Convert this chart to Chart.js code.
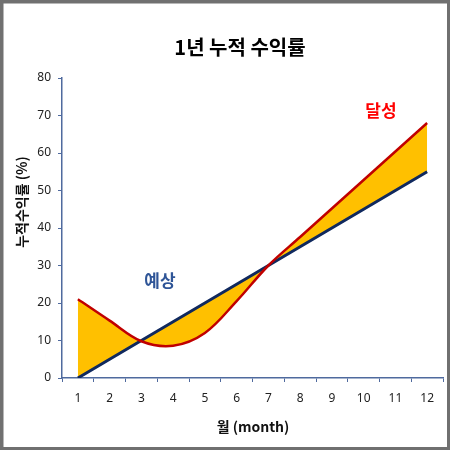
<!DOCTYPE html>
<html>
<head>
<meta charset="utf-8">
<script src="https://cdn.jsdelivr.net/npm/chart.js@4/dist/chart.umd.min.js"></script>
<style>
html,body{margin:0;padding:0;background:#fff;}
#wrap{width:450px;height:450px;position:relative;}
</style>
</head>
<body>
<div id="wrap"><canvas id="c" width="450" height="450"></canvas></div>
<script>
const months = ['1','2','3','4','5','6','7','8','9','10','11','12'];
const expected = [0,5,10,15,20,25,30,35,40,45,50,55];
const achieved = [21,15.3,9.8,8.6,12,20.5,30,37.6,45.2,52.8,60.4,68];
const yTicks = [0,10,20,30,40,50,60,70,80];

const KR = '"Noto Sans CJK KR", "Noto Sans", sans-serif';

const decor = {
  id: 'decor',
  beforeDraw(chart) {
    const ctx = chart.ctx;
    ctx.save();
    ctx.fillStyle = '#ffffff';
    ctx.fillRect(0, 0, chart.width, chart.height);
    ctx.restore();
  },
  afterDraw(chart) {
    const ctx = chart.ctx;
    ctx.save();
    ctx.textAlign = 'center';
    ctx.textBaseline = 'middle';
    ctx.fillStyle = '#000';
    ctx.font = 'bold 20px ' + KR;
    ctx.fillText('1년 누적 수익률', 240, 47);
    ctx.font = 'bold 14px ' + KR;
    ctx.fillStyle = '#111';
    ctx.fillText('월 (month)', 253, 427);
    ctx.save();
    ctx.translate(22, 202);
    ctx.rotate(-Math.PI / 2);
    ctx.font = 'bold 14px ' + KR;
    ctx.fillText('누적수익률 (%)', 0, 0);
    ctx.restore();
    ctx.font = 'bold 17px ' + KR;
    ctx.fillStyle = '#2F5597';
    ctx.fillText('예상', 160, 281);
    ctx.fillStyle = '#FF0000';
    ctx.fillText('달성', 381, 111);
    // frame
    ctx.strokeStyle = '#707070';
    ctx.lineWidth = 4;
    ctx.strokeRect(1.5, 1.5, chart.width - 2.5, chart.height - 2.5);
    ctx.restore();
  }
};

new Chart(document.getElementById('c'), {
  type: 'line',
  data: {
    labels: months,
    datasets: [
      {
        label: '달성',
        data: achieved,
        borderColor: '#C00000',
        borderWidth: 2.5,
        pointRadius: 0,
        tension: 0.35,
        fill: { target: 1, above: '#FFC000', below: '#FFC000' }
      },
      {
        label: '예상',
        data: expected,
        borderColor: '#10295E',
        borderWidth: 3,
        pointRadius: 0,
        tension: 0,
        fill: false
      }
    ]
  },
  options: {
    responsive: false,
    animation: false,
    devicePixelRatio: 1,
    layout: { padding: { left: 0, right: 7, top: 78, bottom: 0 } },
    plugins: {
      legend: { display: false },
      tooltip: { enabled: false },
      title: { display: false },
      filler: { drawTime: 'beforeDatasetsDraw' }
    },
    scales: {
      x: {
        type: 'category',
        offset: true,
        grid: { offset: true, drawOnChartArea: false, drawTicks: true, tickLength: 4, color: '#4F6A9E', lineWidth: 1 },
        border: { color: '#4F6A9E', width: 1.5 },
        ticks: { color: '#222', font: { family: '"Noto Sans", sans-serif', size: 12 }, padding: 9, maxRotation: 0 },
        afterFit(s) { s.height = 72; }
      },
      y: {
        min: 0, max: 80,
        afterBuildTicks(s) { s.ticks = yTicks.map(v => ({ value: v })); },
        grid: { drawOnChartArea: false, drawTicks: true, tickLength: 4, color: '#4F6A9E', lineWidth: 1 },
        border: { color: '#4F6A9E', width: 1.5 },
        ticks: { color: '#222', font: { family: '"Noto Sans", sans-serif', size: 12 }, padding: 7 },
        afterFit(s) { s.width = 62; }
      }
    }
  },
  plugins: [decor]
});
</script>
</body>
</html>
